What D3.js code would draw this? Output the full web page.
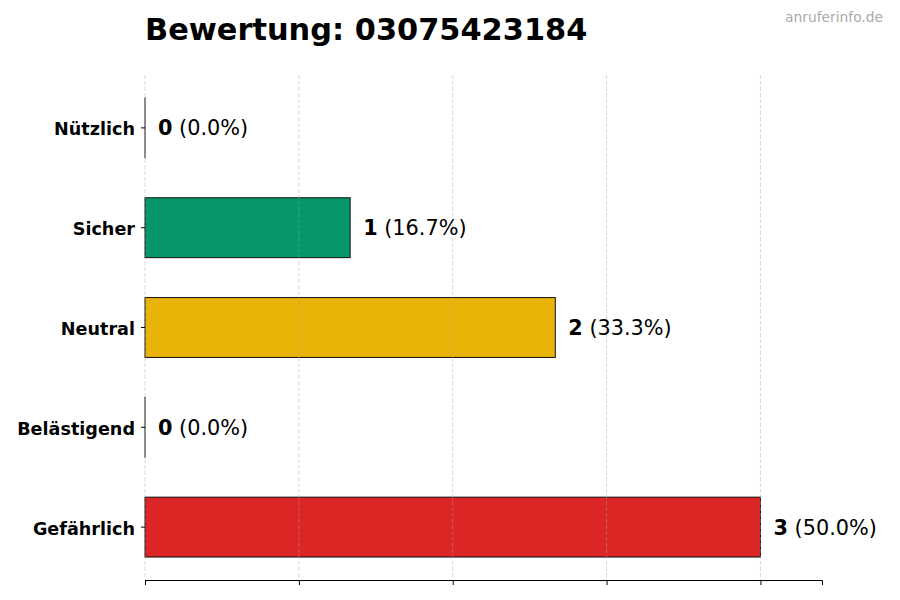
<!DOCTYPE html>
<html lang="de">
<head>
  <meta charset="UTF-8">
  <title>Bewertung: 03075423184</title>
  <script src="https://d3js.org/d3.v7.min.js"></script>
  <style>
    body { margin: 0; background: #fff; font-family: 'DejaVu Sans', sans-serif; }
    svg { display: block; }
  </style>
</head>
<body>
  <svg id="chart" width="900" height="600"></svg>
  <script>
    const categories = ["Nützlich", "Sicher", "Neutral", "Belästigend", "Gefährlich"];
    const counts = [0, 1, 2, 0, 3];
    const colors = ["#9ca3af", "#059669", "#eab308", "#f97316", "#dc2626"];
    const gridTicks = [0, 0.75, 1.5, 2.25, 3];

    const total = d3.sum(counts);
    const margin = { top: 75, right: 78, bottom: 20, left: 145 };
    const width = 900, height = 600;

    const svg = d3.select("#chart");

    const x = d3.scaleLinear()
      .domain([0, d3.max(counts) * 1.1])
      .range([margin.left, width - margin.right]);

    const y = d3.scaleBand()
      .domain(categories)
      .range([margin.top, height - margin.bottom])
      .paddingInner(0.4)
      .paddingOuter(0.23);

    // bars (zero values still show their edge)
    svg.append("g")
      .selectAll("rect")
      .data(categories)
      .enter().append("rect")
      .attr("x", x(0))
      .attr("y", d => y(d))
      .attr("width", (d, i) => Math.max(x(counts[i]) - x(0), 0.01))
      .attr("height", y.bandwidth())
      .attr("fill", (d, i) => colors[i])
      .attr("stroke", "#111")
      .attr("stroke-width", 1);

    // grid
    svg.append("g")
      .selectAll("line")
      .data(gridTicks)
      .enter().append("line")
      .attr("x1", d => x(d)).attr("x2", d => x(d))
      .attr("y1", margin.top).attr("y2", height - margin.bottom)
      .attr("stroke", "#aaa")
      .attr("stroke-opacity", 0.55)
      .attr("stroke-dasharray", "4,2")
      .attr("stroke-width", 0.8);

    // bottom axis without labels
    const xAxis = svg.append("g")
      .attr("transform", `translate(0,${height - margin.bottom})`)
      .call(d3.axisBottom(x).tickValues(gridTicks).tickFormat("").tickSizeOuter(0).tickSize(5));
    xAxis.select(".domain").attr("stroke", "#000");

    // left axis: ticks and labels, no spine
    const yAxis = svg.append("g")
      .attr("transform", `translate(${margin.left},0)`)
      .call(d3.axisLeft(y).tickSize(4).tickPadding(6));
    yAxis.select(".domain").remove();
    yAxis.selectAll("text")
      .attr("dy", "0.42em")
      .style("font-family", "'DejaVu Sans', sans-serif")
      .style("font-size", "17.6px")
      .style("font-weight", "bold")
      .attr("fill", "#000");

    // value labels
    const labels = svg.append("g")
      .selectAll("text")
      .data(categories)
      .enter().append("text")
      .attr("x", (d, i) => x(counts[i]) + 13)
      .attr("y", d => y(d) + y.bandwidth() / 2)
      .attr("dy", "0.36em")
      .style("font-size", "20.8px")
      .attr("fill", "#000");
    labels.append("tspan")
      .style("font-weight", "bold")
      .text((d, i) => counts[i]);
    labels.append("tspan")
      .text((d, i) => " (" + (counts[i] / total * 100).toFixed(1) + "%)");

    // title
    svg.append("text")
      .attr("x", margin.left)
      .attr("y", 40)
      .style("font-size", "30.4px")
      .style("font-weight", "bold")
      .text("Bewertung: 03075423184");

    // watermark
    svg.append("text")
      .attr("x", 883)
      .attr("y", 22)
      .attr("text-anchor", "end")
      .style("font-size", "13.8px")
      .attr("fill", "#aaa")
      .text("anruferinfo.de");
  </script>
</body>
</html>
